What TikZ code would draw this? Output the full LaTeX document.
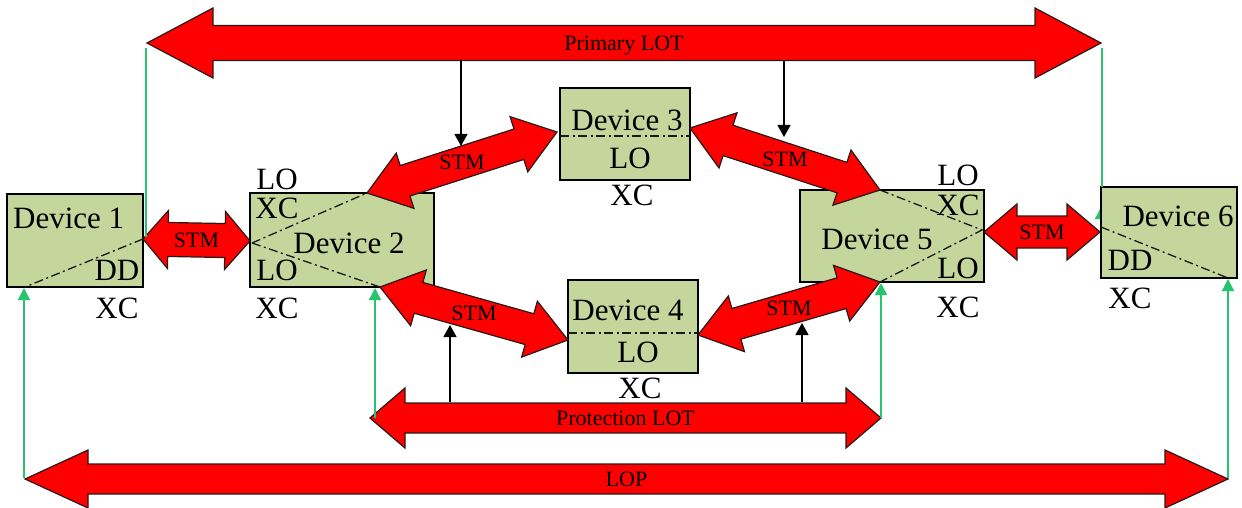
\documentclass[tikz,border=0pt]{standalone}
\usepackage{fontspec}
\setmainfont{Liberation Serif}
\usetikzlibrary{calc,arrows.meta}

\definecolor{boxfill}{RGB}{196,214,155}
\definecolor{linkgreen}{RGB}{40,195,110}
\definecolor{bandred}{RGB}{255,0,0}
\definecolor{bandedge}{RGB}{40,25,25}

\tikzset{
  device/.style={draw=black, line width=1.3pt, fill=boxfill, anchor=north west,
    outer sep=0pt, inner sep=0pt},
  split/.style={draw=black!90, line width=1.3pt,
    dash pattern=on 9pt off 3.5pt on 2pt off 3.5pt},
  lbl/.style={font=\fontsize{31}{34}\selectfont, inner sep=0pt, text depth=0pt},
  bandlbl/.style={font=\fontsize{22}{24}\selectfont, inner sep=0pt, text depth=0pt},
  band/.style={fill=bandred, draw=bandedge, line width=1.2pt, line join=miter},
  feed/.style={draw=black, line width=1.2pt, -{Triangle[length=12pt,width=13pt]}},
  tie/.style={draw=linkgreen, line width=1.4pt},
  tiearrow/.style={tie, -{Triangle[length=12pt,width=12pt]}},
}

% double-headed block arrow: from, to, shaft half width, head half width,
% head length, label, label name
\newcommand{\band}[7]{%
  \coordinate (hA) at ($(#1)!#5!(#2)$);
  \coordinate (hB) at ($(#2)!#5!(#1)$);
  \path[band] (#1) -- ($(hA)!#4!90:(#2)$) -- ($(hA)!#3!90:(#2)$)
    -- ($(hB)!#3!-90:(#1)$) -- ($(hB)!#4!-90:(#1)$) -- (#2)
    -- ($(hB)!#4!90:(#1)$) -- ($(hB)!#3!90:(#1)$)
    -- ($(hA)!#3!-90:(#2)$) -- ($(hA)!#4!-90:(#2)$) -- cycle;
  \node[bandlbl] (#7) at ($(#1)!0.5!(#2)$) {#6};
}

\begin{document}
\begin{tikzpicture}[x=1pt,y=-1pt]
\useasboundingbox (0,0) rectangle (1242,508);

% ---- band end points ----
\coordinate (plL) at (147,43);   \coordinate (plR) at (1101,43);
\coordinate (lpL) at (25,479);   \coordinate (lpR) at (1228,479);
\coordinate (ptL) at (370,418);  \coordinate (ptR) at (881,418);
\coordinate (s12a) at (143,239); \coordinate (s12b) at (250,241);
\coordinate (s23a) at (367,193); \coordinate (s23b) at (557,132);
\coordinate (s35a) at (690,128); \coordinate (s35b) at (880,190);
\coordinate (s24a) at (380,287); \coordinate (s24b) at (568,340);
\coordinate (s45a) at (698,335); \coordinate (s45b) at (880,282);
\coordinate (s56a) at (984,232); \coordinate (s56b) at (1100,232);

% hidden link under device 6
\draw[tiearrow] (1101,236) -- (1101,207);

% ---- devices ----
\node[device, minimum width=136pt, minimum height=93pt] (d1) at (7,194) {};
\node[device, minimum width=184pt, minimum height=94pt] (d2) at (250,193) {};
\node[device, minimum width=130pt, minimum height=92pt] (d3) at (560,88) {};
\node[device, minimum width=130pt, minimum height=93pt] (d4) at (568,280) {};
\node[device, minimum width=184pt, minimum height=92pt] (d5) at (800,190) {};
\node[device, minimum width=136pt, minimum height=91pt] (d6) at (1101,187) {};

% cross-connect split lines
\coordinate (d1c) at (25,287);
\draw[split] (s12a) -- (d1c);
\coordinate (d2m) at (252,243);
\draw[split] (d2m) -- (s23a);
\draw[split] (d2m) -- (s24a);
\coordinate (d3l) at (560,136); \coordinate (d3r) at (690,136);
\draw[split] (d3l) -- (d3r);
\coordinate (d4l) at (568,333); \coordinate (d4r) at (698,333);
\draw[split] (d4l) -- (d4r);
\coordinate (d5m) at (982,230);
\draw[split] (s35b) -- (d5m) -- (s45b);
\coordinate (d6m) at (1101,227); \coordinate (d6c) at (1228,278);
\draw[split] (d6m) -- (d6c);

% ---- labels ----
\node[lbl, anchor=west] (t1a) at (13,218) {Device 1};
\node[lbl] (t1b) at (117,270) {DD};
\node[lbl] (t1c) at (117,308) {XC};

\node[lbl] (t2a) at (277,179) {LO};
\node[lbl] (t2b) at (277,208) {XC};
\node[lbl] (t2c) at (349,243) {Device 2};
\node[lbl] (t2d) at (277,270) {LO};
\node[lbl] (t2e) at (277,308) {XC};

\node[lbl] (t3a) at (627,120) {Device 3};
\node[lbl] (t3b) at (630,158) {LO};
\node[lbl] (t3c) at (632,195) {XC};

\node[lbl] (t4a) at (628,310) {Device 4};
\node[lbl] (t4b) at (638,352) {LO};
\node[lbl] (t4c) at (640,388) {XC};

\node[lbl] (t5a) at (877,239) {Device 5};
\node[lbl] (t5b) at (958,175) {LO};
\node[lbl] (t5c) at (958,205) {XC};
\node[lbl] (t5d) at (958,268) {LO};
\node[lbl] (t5e) at (958,307) {XC};

\node[lbl] (t6a) at (1178,216) {Device 6};
\node[lbl] (t6b) at (1130,260) {DD};
\node[lbl] (t6c) at (1130,298) {XC};

% ---- block arrows ----
\band{plL}{plR}{17.5pt}{35pt}{66pt}{Primary LOT}{plt}
\band{lpL}{lpR}{15pt}{29pt}{63pt}{LOP}{lpt}
\band{ptL}{ptR}{15pt}{30pt}{35pt}{Protection LOT}{ptt}
\band{s12a}{s12b}{17pt}{29pt}{25pt}{STM}{m12}
\band{s23a}{s23b}{16pt}{29pt}{40pt}{STM}{m23}
\band{s35a}{s35b}{16pt}{29pt}{40pt}{STM}{m35}
\band{s24a}{s24b}{16pt}{29pt}{40pt}{STM}{m24}
\band{s45a}{s45b}{16pt}{29pt}{40pt}{STM}{m45}
\band{s56a}{s56b}{16pt}{28pt}{33pt}{STM}{m56}

% ---- feeds between bands ----
\coordinate (f1s) at (461,60);  \coordinate (f1e) at (461,146);
\coordinate (f2s) at (784,60);  \coordinate (f2e) at (784,137);
\coordinate (f3s) at (450,402); \coordinate (f3e) at (450,325);
\coordinate (f4s) at (802,402); \coordinate (f4e) at (802,323);
\draw[feed] (f1s) -- (f1e);
\draw[feed] (f2s) -- (f2e);
\draw[feed] (f3s) -- (f3e);
\draw[feed] (f4s) -- (f4e);

% ---- green ties ----
\coordinate (g1t) at (146,48); \coordinate (g1b) at (146,237);
\draw[tie] (g1t) -- (g1b);
\coordinate (g6t) at (1102,48); \coordinate (g6b) at (1102,187);
\draw[tie] (g6t) -- (g6b);
\coordinate (gd1) at (24,478); \coordinate (gd1e) at (24,288);
\draw[tiearrow] (gd1) -- (gd1e);
\coordinate (gd2) at (375,418); \coordinate (gd2e) at (375,288);
\draw[tiearrow] (gd2) -- (gd2e);
\coordinate (gd5) at (881,418); \coordinate (gd5e) at (881,283);
\draw[tiearrow] (gd5) -- (gd5e);
\coordinate (gd6) at (1228,478); \coordinate (gd6e) at (1228,279);
\draw[tiearrow] (gd6) -- (gd6e);
\end{tikzpicture}
\end{document}
